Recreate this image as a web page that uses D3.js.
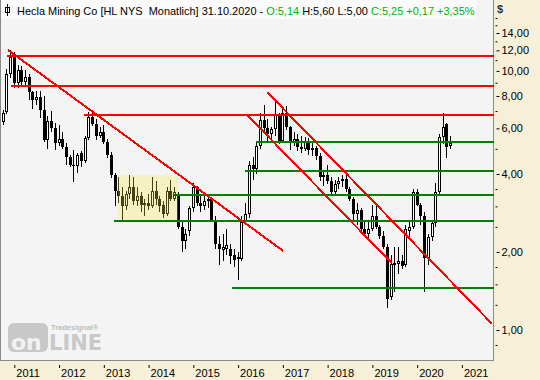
<!DOCTYPE html>
<html>
<head>
<meta charset="utf-8">
<script src="https://cdn.jsdelivr.net/npm/d3@7"></script>
<style>
body { margin: 0; background: #f6f0d9; }
svg { display: block; }
text { font-family: "Liberation Sans", Arial, sans-serif; }
</style>
</head>
<body>
<script>
/*--- data ---*/
let months = [
  "2010-10","2010-11","2010-12",
  "2011-01","2011-02","2011-03","2011-04","2011-05","2011-06","2011-07","2011-08","2011-09","2011-10","2011-11","2011-12",
  "2012-01","2012-02","2012-03","2012-04","2012-05","2012-06","2012-07","2012-08","2012-09","2012-10","2012-11","2012-12",
  "2013-01","2013-02","2013-03","2013-04","2013-05","2013-06","2013-07","2013-08","2013-09","2013-10","2013-11","2013-12",
  "2014-01","2014-02","2014-03","2014-04","2014-05","2014-06","2014-07","2014-08","2014-09","2014-10","2014-11","2014-12",
  "2015-01","2015-02","2015-03","2015-04","2015-05","2015-06","2015-07","2015-08","2015-09","2015-10","2015-11","2015-12",
  "2016-01","2016-02","2016-03","2016-04","2016-05","2016-06","2016-07","2016-08","2016-09","2016-10","2016-11","2016-12",
  "2017-01","2017-02","2017-03","2017-04","2017-05","2017-06","2017-07","2017-08","2017-09","2017-10","2017-11","2017-12",
  "2018-01","2018-02","2018-03","2018-04","2018-05","2018-06","2018-07","2018-08","2018-09","2018-10","2018-11","2018-12",
  "2019-01","2019-02","2019-03","2019-04","2019-05","2019-06","2019-07","2019-08","2019-09","2019-10","2019-11","2019-12",
  "2020-01","2020-02","2020-03","2020-04","2020-05","2020-06","2020-07","2020-08","2020-09","2020-10"
];

let opens = [
  6.35, 6.95, 9.75,
  11.30, 8.95, 10.10, 9.10, 9.50, 8.30, 7.70, 7.90, 7.05, 5.40, 6.40, 6.00,
  5.25, 5.45, 5.10, 4.67, 4.35, 4.30, 4.80, 4.50, 5.50, 6.65, 6.25, 5.60,
  5.83, 5.30, 4.75, 3.96, 3.45, 3.30, 3.00, 3.35, 3.55, 3.15, 3.30, 3.05,
  3.08, 3.00, 3.45, 3.20, 3.05, 2.80, 3.45, 3.20, 3.30, 2.50, 2.20, 2.40,
  2.95, 3.55, 3.10, 3.00, 3.15, 3.20, 2.66, 2.15, 2.03, 2.05, 2.05, 1.95,
  1.92, 1.88, 2.62, 2.80, 4.35, 4.17, 5.15, 6.45, 6.00, 5.70, 5.95, 6.80,
  5.35, 6.90, 6.05, 5.30, 5.45, 5.10, 5.00, 5.35, 4.95, 5.05, 4.70, 3.90,
  3.97, 3.75, 3.40, 3.66, 3.75, 3.82, 3.50, 3.20, 2.80, 2.90, 2.45, 2.35,
  2.45, 2.75, 2.50, 2.30, 2.10, 1.34, 1.78, 1.80, 1.85, 1.78, 2.40, 2.50,
  3.42, 3.05, 2.75, 1.90, 2.28, 2.58, 3.40, 5.55, 6.25, 5.14
];
let highs = [
  7.05, 10.20, 12.00,
  11.80, 10.50, 10.40, 10.10, 9.70, 8.40, 8.35, 8.40, 8.00, 6.70, 7.00, 6.30,
  6.20, 5.80, 5.25, 4.75, 4.95, 4.80, 4.90, 5.60, 6.95, 6.85, 6.50, 6.05,
  6.20, 5.45, 4.85, 4.05, 3.90, 3.55, 3.45, 3.95, 3.90, 3.55, 3.40, 3.20,
  3.35, 3.90, 3.75, 3.30, 3.15, 3.55, 3.80, 3.55, 3.40, 2.60, 2.45, 3.00,
  3.70, 3.60, 3.35, 3.30, 3.35, 3.25, 2.75, 2.30, 2.35, 2.45, 2.15, 2.05,
  2.00, 2.75, 3.10, 4.50, 4.65, 5.35, 6.90, 7.40, 6.50, 6.10, 7.70, 6.90,
  7.20, 7.30, 6.15, 5.80, 5.70, 5.60, 5.55, 5.50, 5.30, 5.15, 4.80, 4.10,
  4.35, 3.90, 3.80, 3.90, 3.95, 3.95, 3.55, 3.25, 3.10, 2.95, 2.60, 2.60,
  3.05, 3.10, 2.55, 2.40, 2.15, 1.95, 2.10, 2.10, 1.95, 2.55, 2.60, 3.50,
  3.50, 3.10, 2.85, 2.35, 2.65, 3.70, 5.70, 6.85, 6.30, 5.60
];
let lows = [
  6.20, 6.80, 9.40,
  8.60, 8.60, 8.70, 8.80, 7.70, 7.10, 7.40, 6.60, 5.30, 5.00, 5.80, 4.95,
  5.15, 5.00, 4.33, 4.25, 3.74, 4.05, 4.27, 4.40, 5.40, 6.15, 5.40, 5.50,
  5.20, 4.60, 3.85, 3.00, 3.10, 2.65, 2.90, 3.20, 3.05, 3.00, 2.85, 2.75,
  2.90, 2.95, 3.05, 2.85, 2.70, 2.75, 3.15, 3.15, 2.45, 2.00, 2.05, 2.30,
  2.85, 3.00, 2.85, 2.90, 2.95, 2.60, 2.05, 1.78, 1.85, 1.95, 1.80, 1.75,
  1.56, 1.85, 2.55, 2.70, 3.80, 4.00, 5.00, 5.80, 5.30, 5.35, 5.60, 5.20,
  5.30, 5.90, 4.95, 5.15, 4.90, 4.80, 4.90, 4.75, 4.70, 4.55, 3.75, 3.60,
  3.65, 3.30, 3.35, 3.50, 3.55, 3.40, 3.15, 2.60, 2.55, 2.35, 2.30, 2.20,
  2.40, 2.45, 2.25, 2.05, 1.22, 1.30, 1.40, 1.65, 1.72, 1.75, 2.25, 2.45,
  3.00, 2.55, 1.40, 1.78, 2.20, 2.50, 3.30, 5.20, 4.60, 5.00
];
let closes = [
  6.90, 9.75, 11.30,
  8.95, 10.10, 9.10, 9.50, 8.30, 7.70, 7.90, 7.05, 5.40, 6.40, 6.00, 5.25,
  5.45, 5.10, 4.67, 4.35, 4.30, 4.72, 4.50, 5.50, 6.65, 6.25, 5.60, 5.83,
  5.30, 4.75, 3.96, 3.45, 3.30, 3.00, 3.35, 3.55, 3.15, 3.30, 3.05, 3.08,
  3.00, 3.45, 3.20, 3.00, 2.80, 3.45, 3.20, 3.40, 2.50, 2.20, 2.35, 2.95,
  3.55, 3.10, 3.00, 3.15, 3.20, 2.66, 2.15, 2.05, 2.10, 2.12, 1.93, 1.87,
  1.88, 2.62, 2.80, 4.35, 4.17, 5.15, 6.45, 6.00, 5.70, 5.95, 6.80, 5.35,
  6.90, 6.05, 5.30, 5.45, 5.10, 5.00, 5.35, 4.95, 5.05, 4.70, 3.90, 3.97,
  3.75, 3.40, 3.66, 3.75, 3.82, 3.50, 3.20, 2.80, 2.90, 2.45, 2.35, 2.45,
  2.75, 2.50, 2.30, 2.10, 1.32, 1.80, 1.82, 1.85, 1.76, 2.45, 2.50, 3.40,
  3.05, 2.75, 1.90, 2.28, 2.58, 3.40, 5.55, 6.10, 5.08, 5.25
];

let yearLabels = ["2011","2012","2013","2014","2015","2016","2017","2018","2019","2020","2021"];
let yMajor = [1, 2, 4, 6, 8, 10, 12, 14];
let yMinor = [0.875, 1.25, 1.5, 1.75, 2.5, 3, 3.5, 5, 7, 9, 11, 13, 15, 16];

// horizontal levels: [start bar, price]
let redLevels = [[1.1, 11.45], [2.25, 8.77], [21.9, 6.76]];
let greenLevels = [[67.9, 5.33], [65.0, 4.12], [45.9, 3.33], [29.9, 2.64], [61.5, 1.45]];
// trend lines: [[bar, price], [bar, price]]
let trendLines = [
  [[1.45, 12.04], [75.2, 2.02]],
  [[70.9, 8.29], [131.2, 1.057]],
  [[65.8, 6.70], [104.3, 1.814]]
];
// consolidation box: [bar from, bar to, low, high]
let rangeBox = [30.9, 47.0, 2.64, 3.96];

let header = [
  ["Hecla Mining Co [HL NYS  Monatlich] 31.10.2020 - ", "#000"],
  ["O:5,14 ", "#00b400"],
  ["H:5,60 L:5,00 ", "#000"],
  ["C:5,25 +0,17 +3,35%", "#00b400"]
];

/*--- layout ---*/
let W = 540, H = 380;
let plotRight = 493.5, plotBottom = 360.5;

let svg = d3.select("body").append("svg")
  .attr("width", W).attr("height", H);

svg.append("rect").attr("width", W).attr("height", H).attr("fill", "#f6f0d9");
svg.append("rect")
  .attr("x", 0.5).attr("y", -1)
  .attr("width", plotRight - 0.5).attr("height", plotBottom + 1)
  .attr("fill", "#f4f4f4").attr("stroke", "#8a8a8a");

// scales
let x = d3.scaleLinear().domain([3, 123]).range([13.8, 461.4]);
let y = d3.scaleLog().base(2).domain([1, 16]).range([330, 18]);

let fmt = v => d3.format(".2f")(v).replace(".", ",");

// watermark logo
let logo = svg.append("g").attr("opacity", 1);
logo.append("rect").attr("x", 8).attr("y", 323).attr("width", 40).attr("height", 29)
  .attr("rx", 6).attr("fill", "#c8c8c8");
logo.append("text").attr("x", 11).attr("y", 350)
  .attr("font-size", 22).attr("font-weight", "bold").attr("fill", "#f2f2f2")
  .style("font-family", "'DejaVu Sans', sans-serif").text("on");
logo.append("text").attr("x", 49).attr("y", 350)
  .attr("font-size", 21).attr("font-weight", "bold").attr("fill", "#c8c8c8")
  .style("font-family", "'DejaVu Sans', sans-serif").text("LINE");
logo.append("text").attr("x", 51).attr("y", 330)
  .attr("font-size", 7.5).attr("font-weight", "bold").attr("fill", "#bdbdbd")
  .text("Tradesignal®");

// candles
let bars = svg.append("g").attr("shape-rendering", "crispEdges");
months.forEach(function(m, i) {
  let px = Math.round(x(i));
  let o = opens[i], c = closes[i];
  bars.append("line")
    .attr("x1", px + 0.5).attr("x2", px + 0.5)
    .attr("y1", y(highs[i])).attr("y2", y(lows[i]))
    .attr("stroke", "#000");
  let top = Math.round(y(Math.max(o, c)));
  let bot = Math.round(y(Math.min(o, c)));
  let h = Math.max(bot - top, 1);
  if (c >= o) {
    bars.append("rect")
      .attr("x", px - 0.5).attr("y", top + 0.5)
      .attr("width", 2).attr("height", Math.max(h - 1, 0.5))
      .attr("fill", "#fff").attr("stroke", "#000");
  } else {
    bars.append("rect")
      .attr("x", px - 1).attr("y", top)
      .attr("width", 3).attr("height", h)
      .attr("fill", "#000");
  }
});

// box
svg.append("rect")
  .attr("x", x(rangeBox[0])).attr("y", y(rangeBox[3]))
  .attr("width", x(rangeBox[1]) - x(rangeBox[0]))
  .attr("height", y(rangeBox[2]) - y(rangeBox[3]))
  .attr("fill", "#f8ea3a").attr("opacity", 0.28);

// lines
let lines = svg.append("g").attr("shape-rendering", "crispEdges");
redLevels.forEach(function(d) {
  lines.append("line")
    .attr("x1", x(d[0])).attr("x2", plotRight)
    .attr("y1", Math.round(y(d[1]))).attr("y2", Math.round(y(d[1])))
    .attr("stroke", "#ff0000").attr("stroke-width", 2);
});
greenLevels.forEach(function(d) {
  lines.append("line")
    .attr("x1", x(d[0])).attr("x2", plotRight)
    .attr("y1", Math.round(y(d[1]))).attr("y2", Math.round(y(d[1])))
    .attr("stroke", "#008000").attr("stroke-width", 2);
});
trendLines.forEach(function(t) {
  lines.append("line")
    .attr("x1", x(t[0][0])).attr("y1", y(t[0][1]))
    .attr("x2", x(t[1][0])).attr("y2", y(t[1][1]))
    .attr("stroke", "#ff0000").attr("stroke-width", 2);
});

// y axis
let yAxis = svg.append("g")
  .attr("transform", "translate(496.5,0)")
  .call(d3.axisRight(y).tickValues(yMajor).tickSize(3).tickPadding(2).tickFormat(fmt));
yAxis.select(".domain").remove();
yAxis.selectAll("text").attr("font-size", 11).attr("fill", "#000")
  .style("font-family", "'Liberation Sans', Arial, sans-serif");
yAxis.selectAll("line").attr("stroke", "#000");

let yMin = svg.append("g")
  .attr("transform", "translate(495.5,0)")
  .call(d3.axisRight(y).tickValues(yMinor).tickSize(2).tickFormat(""));
yMin.select(".domain").remove();
yMin.selectAll("line").attr("stroke", "#000");

svg.append("text").attr("x", 497).attr("y", 13)
  .attr("font-size", 11).attr("font-weight", "bold").attr("fill", "#333").text("$");

// x axis
let xAxis = svg.append("g")
  .attr("transform", "translate(0,365)")
  .call(d3.axisBottom(x)
    .tickValues(yearLabels.map((d, i) => 3 + i * 12))
    .tickSize(3)
    .tickFormat((d, i) => yearLabels[i]));
xAxis.select(".domain").remove();
xAxis.selectAll("line").attr("stroke", "#000").attr("transform", "translate(0.5,0)");
xAxis.selectAll("text")
  .attr("text-anchor", "start").attr("x", 2).attr("y", 12).attr("dy", 0)
  .attr("font-size", 11).attr("fill", "#000")
  .style("font-family", "'Liberation Sans', Arial, sans-serif");

// header
svg.append("rect").attr("x", 1).attr("y", 0).attr("width", 476).attr("height", 19)
  .attr("fill", "#fbfbfb");
let hd = svg.append("g");
hd.append("rect").attr("x", 5.5).attr("y", 7.5).attr("width", 4).attr("height", 5)
  .attr("fill", "none").attr("stroke", "#000").attr("shape-rendering", "crispEdges");
hd.append("line").attr("x1", 7.5).attr("x2", 7.5).attr("y1", 4).attr("y2", 16)
  .attr("stroke", "#000").attr("shape-rendering", "crispEdges");
let ht = hd.append("text").attr("x", 17).attr("y", 14.5)
  .attr("font-size", 11).style("white-space", "pre");
header.forEach(function(h) {
  ht.append("tspan").attr("fill", h[1]).text(h[0]);
});
let len = ht.node().getComputedTextLength();
ht.attr("font-size", 11 * 458 / len);
</script>
</body>
</html>
